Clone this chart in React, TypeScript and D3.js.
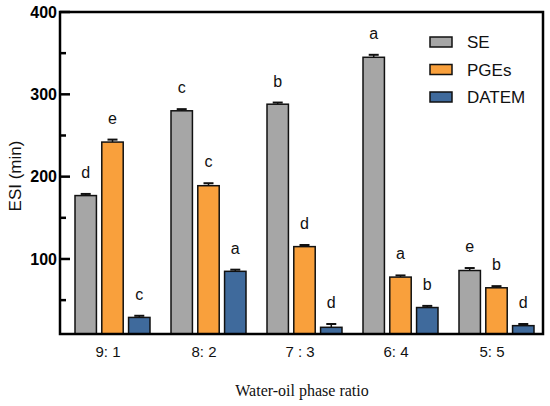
import * as d3 from 'd3';

const ratios = ['9: 1', '8: 2', '7 : 3', '6: 4', '5: 5'];
const seriesNames = ['SE', 'PGEs', 'DATEM'];
const colors = ['#a6a6a6', '#f9a03c', '#3f6a9c'];

const seValues = [177, 280, 288, 345, 86];
const pgeValues = [242, 189, 115, 78, 65];
const datemValues = [29, 85, 17, 41, 19];

const seErr = [2, 2, 2, 3, 3];
const pgeErr = [3, 3, 2, 2, 2];
const datemErr = [2, 2, 4, 2, 2];

const seLetters = ['d', 'c', 'b', 'a', 'e'];
const pgeLetters = ['e', 'c', 'd', 'a', 'b'];
const datemLetters = ['c', 'a', 'd', 'b', 'd'];

const yTicks = [100, 200, 300, 400];
const yMinorTicks = [50, 150, 250, 350];

const values = [seValues, pgeValues, datemValues];
const errors = [seErr, pgeErr, datemErr];
const letters = [seLetters, pgeLetters, datemLetters];

export default function App() {
	const width = 550;
	const height = 406;
	const left = 60;
	const right = 543;
	const top = 12;
	const bottom = 334;

	const y = d3.scaleLinear().domain([0, 400]).range([341.3, top]);
	const x = d3.scaleBand().domain(ratios).range([64, 544]);
	const inner = d3.scaleBand().domain(seriesNames).range([-37, 38]).paddingInner(0.2);

	const sans = 'Liberation Sans, Arial, sans-serif';

	return (
		<svg width={width} height={height} style={{position: 'absolute', left: 0, top: 0}}>
			<rect x={0} y={0} width={width} height={height} fill="#fff" />
			{/* bars */}
			{seriesNames.map((s, si) => (
				<g key={s}>
					{ratios.map((r, i) => {
						const cx = (x(r) as number) + x.bandwidth() / 2;
						const bx = cx + (inner(s) as number);
						const bw = inner.bandwidth();
						const v = values[si][i];
						const e = errors[si][i];
						const by = y(v);
						const ey = y(v + e);
						return (
							<g key={r}>
								<line x1={bx + bw / 2} x2={bx + bw / 2} y1={by} y2={ey} stroke="#111" strokeWidth={1.5} />
								<line x1={bx + bw / 2 - 5} x2={bx + bw / 2 + 5} y1={ey} y2={ey} stroke="#111" strokeWidth={2} />
								<rect x={bx} y={by} width={bw} height={bottom - by} fill={colors[si]} stroke="#111" strokeWidth={1.5} />
								<text x={bx + bw / 2} y={ey - 16} textAnchor="middle" fontFamily={sans} fontSize={16} fill="#111">
									{letters[si][i]}
								</text>
							</g>
						);
					})}
				</g>
			))}
			{/* frame */}
			<rect x={left} y={top} width={right - left} height={bottom - top} fill="none" stroke="#000" strokeWidth={2.5} />
			{/* y ticks */}
			{yTicks.map(t => (
				<g key={t}>
					<line x1={left} x2={left + 10} y1={y(t)} y2={y(t)} stroke="#000" strokeWidth={2.5} />
					<text x={57} y={y(t)} dy="0.36em" textAnchor="end" fontFamily={sans} fontWeight="bold" fontSize={16} fill="#000">
						{t}
					</text>
				</g>
			))}
			{yMinorTicks.map(t => (
				<line key={t} x1={left} x2={left + 6} y1={y(t)} y2={y(t)} stroke="#000" strokeWidth={2.5} />
			))}
			{/* x tick labels */}
			{ratios.map(r => (
				<text key={r} x={(x(r) as number) + x.bandwidth() / 2 - 4} y={357} textAnchor="middle" fontFamily={sans} fontSize={15} fill="#111">
					{r}
				</text>
			))}
			{/* axis titles */}
			<text x={302} y={396} textAnchor="middle" fontFamily="Liberation Serif, Times New Roman, serif" fontSize={16} fill="#111">
				Water-oil phase ratio
			</text>
			<text transform="translate(21,176) rotate(-90)" textAnchor="middle" fontFamily={sans} fontSize={17} fill="#111">
				ESI (min)
			</text>
			{/* legend */}
			{seriesNames.map((s, i) => (
				<g key={s} transform={`translate(430,${42 + i * 27.5})`}>
					<rect x={0} y={-5} width={22} height={10} fill={colors[i]} stroke="#111" strokeWidth={1.5} />
					<text x={37} y={0} dy="0.36em" fontFamily={sans} fontSize={17} fill="#111">
						{s}
					</text>
				</g>
			))}
		</svg>
	);
}
